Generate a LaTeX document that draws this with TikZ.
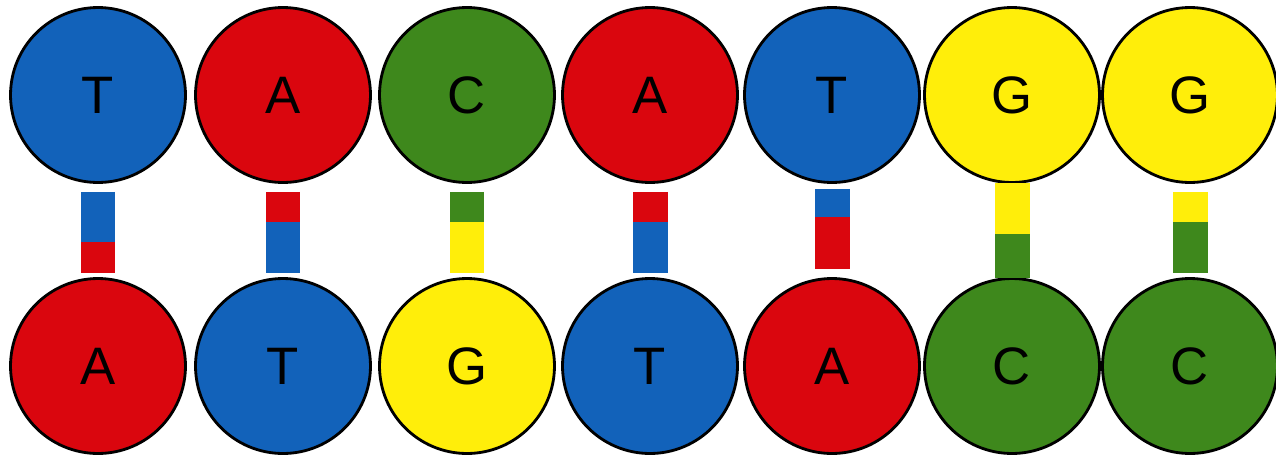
\documentclass[tikz,border=0pt]{standalone}
\usepackage{fontspec}
\setmainfont{Liberation Sans}
\usepackage{xcolor}
\usepackage{tikz}
\usetikzlibrary{positioning,calc}

\definecolor{dnaBlue}{RGB}{18,98,186}
\definecolor{dnaRed}{RGB}{218,6,14}
\definecolor{dnaGreen}{RGB}{62,136,28}
\definecolor{dnaYellow}{RGB}{255,238,10}

\tikzset{
  base/.style={draw=black, line width=1.6pt, circle, minimum size=3.5cm, inner sep=0pt,
    font=\fontsize{30}{36}\selectfont},
  bar/.style={line width=0.7cm, line cap=butt}
}

\begin{document}
\begin{tikzpicture}[x=0.02cm, y=-0.02cm]
		\useasboundingbox[fill=white] (0,0) rectangle (1276,461);
		% top strand
		\node[base, fill=dnaBlue] (t1) at (98,95) {T};
		\node[base, fill=dnaRed] (t2) at (283,95) {A};
		\node[base, fill=dnaGreen] (t3) at (467,95) {C};
		\node[base, fill=dnaRed] (t4) at (650,95) {A};
		\node[base, fill=dnaBlue] (t5) at (832,95) {T};
		\node[base, fill=dnaYellow] (t6) at (1012,95) {G};
		\node[base, fill=dnaYellow] (t7) at (1190,95) {G};
		% bottom strand
		\node[base, fill=dnaRed] (b1) at (98,366) {A};
		\node[base, fill=dnaBlue] (b2) at (283,366) {T};
		\node[base, fill=dnaYellow] (b3) at (467,366) {G};
		\node[base, fill=dnaBlue] (b4) at (650,366) {T};
		\node[base, fill=dnaRed] (b5) at (832,366) {A};
		\node[base, fill=dnaGreen] (b6) at (1012,366) {C};
		\node[base, fill=dnaGreen] (b7) at (1190,366) {C};
		% base pairs
		\draw[bar, dnaBlue] ($(t1.south)+(0,8)$) -- ($(t1.south)+(0,58)$);
		\draw[bar, dnaRed] ($(t1.south)+(0,58)$) -- ($(b1.north)+(0,-4)$);
		\draw[bar, dnaRed] ($(t2.south)+(0,8)$) -- ($(t2.south)+(0,38)$);
		\draw[bar, dnaBlue] ($(t2.south)+(0,38)$) -- ($(b2.north)+(0,-4)$);
		\draw[bar, dnaGreen] ($(t3.south)+(0,8)$) -- ($(t3.south)+(0,38)$);
		\draw[bar, dnaYellow] ($(t3.south)+(0,38)$) -- ($(b3.north)+(0,-4)$);
		\draw[bar, dnaRed] ($(t4.south)+(0,8)$) -- ($(t4.south)+(0,38)$);
		\draw[bar, dnaBlue] ($(t4.south)+(0,38)$) -- ($(b4.north)+(0,-4)$);
		\draw[bar, dnaBlue] ($(t5.south)+(0,5)$) -- ($(t5.south)+(0,33)$);
		\draw[bar, dnaRed] ($(t5.south)+(0,33)$) -- ($(b5.north)+(0,-8)$);
		\draw[bar, dnaYellow] ($(t6.south)+(0,-1)$) -- ($(t6.south)+(0,50)$);
		\draw[bar, dnaGreen] ($(t6.south)+(0,50)$) -- ($(b6.north)+(0,1)$);
		\draw[bar, dnaYellow] ($(t7.south)+(0,8)$) -- ($(t7.south)+(0,38)$);
		\draw[bar, dnaGreen] ($(t7.south)+(0,38)$) -- ($(b7.north)+(0,-4)$);
	\end{tikzpicture}
\end{document}
